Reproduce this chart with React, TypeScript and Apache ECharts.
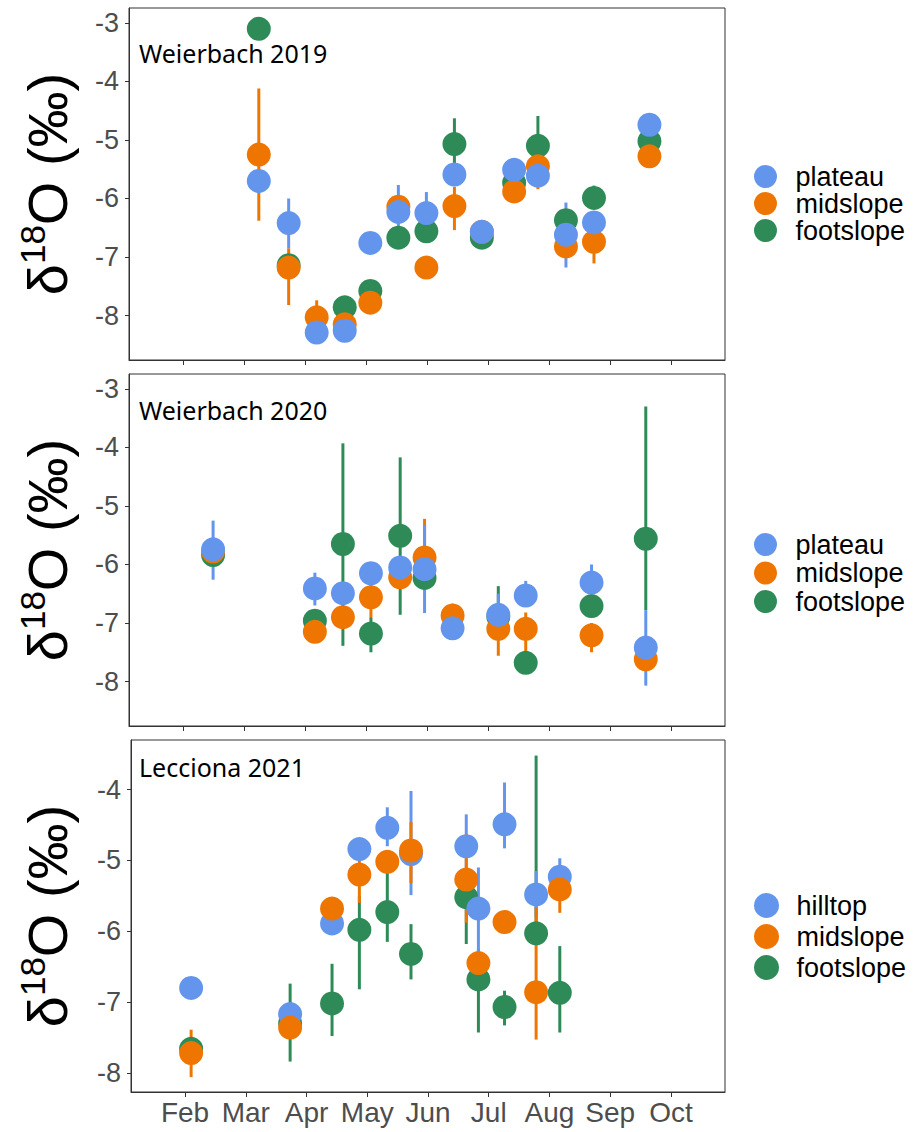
import React, { useEffect, useRef } from "react";
import * as echarts from "echarts";

// ---------- shared axis data ----------
const monthLabels = ["Feb", "Mar", "Apr", "May", "Jun", "Jul", "Aug", "Sep", "Oct"];
const monthTicks = [2, 3, 4, 5, 6, 7, 8, 9, 10]; // 2 = 1 Feb, 3 = 1 Mar, ...
const yTicksWeierbach = [-8, -7, -6, -5, -4, -3];
const yTicksLecciona = [-8, -7, -6, -5, -4];

// ---------- Panel 1: Weierbach 2019 ----------
const p1Dates = [3.24, 3.73, 4.19, 4.65, 5.07, 5.53, 5.99, 6.45, 6.9, 7.43, 7.82, 8.28, 8.74, 9.65];
const p1Plateau = [-5.7, -6.42, -8.29, -8.26, -6.76, -6.23, -6.25, -5.59, -6.57, -5.51, -5.61, -6.62, -6.41, -4.74];
const p1PlateauLo = [null, -6.85, null, null, null, -6.68, -6.62, null, null, -5.75, null, -7.18, null, null];
const p1PlateauHi = [null, -6.0, null, null, null, -5.77, -5.89, null, null, -5.33, null, -6.07, null, null];
const p1Midslope = [-5.25, -7.18, -8.03, -8.15, -7.78, -6.14, -7.18, -6.13, -6.57, -5.88, -5.45, -6.82, -6.74, -5.28];
const p1MidslopeLo = [-6.38, -7.82, -8.25, -8.25, null, null, null, -6.54, -6.66, null, -5.84, null, -7.11, null];
const p1MidslopeHi = [-4.12, -6.85, -7.74, -8.05, null, null, null, -5.8, -6.5, null, -5.09, null, -6.5, null];
const p1Footslope = [-3.1, -7.14, null, -7.86, -7.58, -6.67, -6.56, -5.07, -6.67, -5.73, -5.1, -6.37, -5.99, -5.02];
const p1FootslopeLo = [null, null, null, null, null, null, null, -5.5, null, -5.95, -5.5, null, -6.1, -5.2];
const p1FootslopeHi = [null, null, null, null, null, null, null, -4.63, null, -5.5, -4.59, null, -5.78, -4.9];

// ---------- Panel 2: Weierbach 2020 ----------
const p2Dates = [2.49, 4.16, 4.62, 5.08, 5.56, 5.96, 6.42, 7.17, 7.62, 8.7, 9.59];
const p2Plateau = [-5.74, -6.41, -6.49, -6.15, -6.05, -6.08, -7.09, -6.86, -6.53, -6.31, -7.42];
const p2PlateauLo = [-6.26, -6.7, null, null, null, -6.83, null, -7.23, -6.7, -6.62, -8.07];
const p2PlateauHi = [-5.25, -6.14, null, null, null, -5.32, null, -6.5, -6.28, -6.0, -6.78];
const p2Midslope = [-5.78, -7.15, -6.9, -6.56, -6.22, -5.88, -6.87, -7.1, -7.1, -7.21, -7.62];
const p2MidslopeLo = [null, null, null, -6.9, null, -6.2, -7.0, -7.56, -7.49, -7.5, null];
const p2MidslopeHi = [null, null, null, -6.29, null, -5.22, -6.67, -6.9, -6.82, -7.0, null];
const p2Footslope = [-5.84, -6.96, -5.65, -7.18, -5.51, -6.23, null, -6.89, -7.68, -6.71, -5.56];
const p2FootslopeLo = [null, -7.23, -7.39, -7.5, -6.86, null, null, -7.0, null, null, -6.78];
const p2FootslopeHi = [null, -6.8, -3.93, -6.9, -4.17, null, null, -6.37, null, null, -3.3];

// ---------- Panel 3: Lecciona 2021 ----------
const p3Dates = [2.1, 3.73, 4.42, 4.87, 5.33, 5.72, 6.63, 6.83, 7.26, 7.78, 8.17];
const p3Hilltop = [-6.8, -7.17, -5.89, -4.84, -4.54, -4.91, -4.8, -5.68, -4.49, -5.48, -5.23];
const p3HilltopLo = [null, null, null, null, -4.8, -5.49, -5.2, -6.4, -4.83, -5.8, -5.5];
const p3HilltopHi = [null, null, null, null, -4.25, -4.02, -4.35, -5.1, -3.9, -5.15, -4.97];
const p3Midslope = [-7.72, -7.36, -5.68, -5.2, -5.02, -4.86, -5.27, -6.45, -5.87, -6.86, -5.41];
const p3MidslopeLo = [-8.06, -7.5, null, -5.6, null, -5.32, -5.88, null, null, -7.53, -5.74];
const p3MidslopeHi = [-7.39, -7.2, null, -4.83, null, -4.46, -4.63, null, null, -5.66, -5.09];
const p3Footslope = [-7.66, -7.3, -7.02, -5.98, -5.73, -6.32, -5.52, -6.68, -7.07, -6.03, -6.87];
const p3FootslopeLo = [null, -7.84, -7.48, -6.82, -6.15, -6.68, -6.18, -7.43, -7.33, -6.2, -7.43];
const p3FootslopeHi = [null, -6.74, -6.46, -5.5, -5.12, -5.9, -5.3, -6.25, -6.84, -3.52, -6.21];

const BLUE = "#6495ED";
const ORANGE = "#EE7600";
const GREEN = "#2E8B57";
const AXIS_FONT = "Liberation Sans";

type Group = { name: string; color: string; vals: (number | null)[]; lo: (number | null)[]; hi: (number | null)[] };

function buildSeries(panel: number, dates: number[], groups: Group[]) {
  const out: any[] = [];
  groups.forEach((g) => {
    const barData = dates
      .map((d, i) => (g.lo[i] == null || g.hi[i] == null ? null : [d, g.lo[i], g.hi[i]]))
      .filter((v) => v != null);
    out.push({
      type: "custom",
      name: "bar-" + g.name + "-" + panel,
      xAxisIndex: panel,
      yAxisIndex: panel,
      data: barData,
      encode: { x: 0, y: [1, 2] },
      silent: true,
      renderItem: (params: any, api: any) => {
        const a = api.coord([api.value(0), api.value(1)]);
        const b = api.coord([api.value(0), api.value(2)]);
        return {
          type: "line",
          shape: { x1: a[0], y1: a[1], x2: b[0], y2: b[1] },
          style: { stroke: g.color, lineWidth: 3 },
        };
      },
    });
    out.push({
      type: "scatter",
      name: g.name + "|" + panel,
      xAxisIndex: panel,
      yAxisIndex: panel,
      symbol: "circle",
      symbolSize: 24,
      itemStyle: { color: g.color, opacity: 1 },
      data: dates.map((d, i) => [d, g.vals[i]]).filter((v) => v[1] != null),
    });
  });
  return out;
}

export default function App() {
  const ref = useRef<HTMLDivElement>(null);
  useEffect(() => {
    if (!ref.current) return;
    const chart = echarts.init(ref.current, undefined, { renderer: "svg" });

    const grids = [
      { left: 129, top: 8, width: 596, height: 352 },
      { left: 129, top: 374, width: 596, height: 352 },
      { left: 131, top: 740, width: 594, height: 352 },
    ].map((g) => ({ ...g, show: true, borderColor: "#333", borderWidth: 1, backgroundColor: "transparent" }));

    const xAxes = [0, 1, 2].map((i) => ({
      type: "value",
      gridIndex: i,
      min: 1.11,
      max: 10.89,
      splitLine: { show: false },
      axisLine: { show: true, lineStyle: { color: "#333", width: 1 } },
      axisTick: { show: true, length: 5, customValues: monthTicks, lineStyle: { color: "#333" } },
      axisLabel: {
        show: i === 2,
        customValues: monthTicks,
        formatter: (v: number) => monthLabels[Math.round(v) - 2] || "",
        fontSize: 28,
        fontFamily: AXIS_FONT,
        color: "#4d4d4d",
        margin: 6,
      },
    }));

    const yAxes = [0, 1, 2].map((i) => {
      const ticks = i === 2 ? yTicksLecciona : yTicksWeierbach;
      return {
        type: "value",
        gridIndex: i,
        min: i === 2 ? -8.27 : -8.76,
        max: i === 2 ? -3.3 : -2.745,
        splitLine: { show: false },
        axisLine: { show: true, lineStyle: { color: "#333", width: 1 } },
        axisTick: { show: true, length: 4, customValues: ticks, lineStyle: { color: "#333" } },
        axisLabel: {
          customValues: ticks,
          formatter: (v: number) => String(Math.round(v)),
          fontSize: 27,
          fontFamily: AXIS_FONT,
          color: "#4d4d4d",
          margin: 10,
        },
      };
    });

    const series = [
      ...buildSeries(0, p1Dates, [
        { name: "footslope", color: GREEN, vals: p1Footslope, lo: p1FootslopeLo, hi: p1FootslopeHi },
        { name: "midslope", color: ORANGE, vals: p1Midslope, lo: p1MidslopeLo, hi: p1MidslopeHi },
        { name: "plateau", color: BLUE, vals: p1Plateau, lo: p1PlateauLo, hi: p1PlateauHi },
      ]),
      ...buildSeries(1, p2Dates, [
        { name: "footslope", color: GREEN, vals: p2Footslope, lo: p2FootslopeLo, hi: p2FootslopeHi },
        { name: "midslope", color: ORANGE, vals: p2Midslope, lo: p2MidslopeLo, hi: p2MidslopeHi },
        { name: "plateau", color: BLUE, vals: p2Plateau, lo: p2PlateauLo, hi: p2PlateauHi },
      ]),
      ...buildSeries(2, p3Dates, [
        { name: "footslope", color: GREEN, vals: p3Footslope, lo: p3FootslopeLo, hi: p3FootslopeHi },
        { name: "hilltop", color: BLUE, vals: p3Hilltop, lo: p3HilltopLo, hi: p3HilltopHi },
        { name: "midslope", color: ORANGE, vals: p3Midslope, lo: p3MidslopeLo, hi: p3MidslopeHi },
      ]),
    ];

    const legendBase = {
      orient: "vertical",
      left: 754,
      padding: 0,
      icon: "circle",
      itemWidth: 50,
      itemHeight: 23,
      symbolKeepAspect: true,
      selectedMode: false,
      formatter: (name: string) => name.split("|")[0],
      textStyle: { fontSize: 27, fontFamily: AXIS_FONT, color: "#000", lineHeight: 26, padding: [0, 0, 0, 0] },
    };
    const legends = [
      { ...legendBase, top: 163, itemGap: 0, data: ["plateau|0", "midslope|0", "footslope|0"] },
      { ...legendBase, top: 531, itemGap: 1.5, data: ["plateau|1", "midslope|1", "footslope|1"] },
      { ...legendBase, top: 892, itemGap: 4, itemHeight: 25, data: ["hilltop|2", "midslope|2", "footslope|2"] },
    ];

    const titleText = (cy: number) => ({
      type: "text",
      x: 47,
      y: cy,
      rotation: Math.PI / 2,
      style: {
        text: "{a|δ}{b|18}{a|O (‰)}",
        align: "center",
        verticalAlign: "middle",
        rich: {
          a: { fontSize: 56, fontFamily: AXIS_FONT, fill: "#000", lineHeight: 64, verticalAlign: "middle" },
          b: { fontSize: 35, fontFamily: AXIS_FONT, fill: "#000", lineHeight: 32, verticalAlign: "top" },
        },
      },
    });
    const panelLabel = (text: string, y: number) => ({
      type: "text",
      x: 139,
      y,
      style: { text, fontSize: 25, fontFamily: "Noto Sans", fill: "#000", align: "left", verticalAlign: "middle" },
    });

    chart.setOption({
      animation: false,
      backgroundColor: "#fff",
      grid: grids,
      xAxis: xAxes,
      yAxis: yAxes,
      legend: legends,
      series,
      graphic: [
        titleText(184),
        titleText(550),
        titleText(916),
        panelLabel("Weierbach 2019", 53),
        panelLabel("Weierbach 2020", 410),
        panelLabel("Lecciona 2021", 767),
      ],
    });
    return () => chart.dispose();
  }, []);
  return (
    <div
      ref={ref}
      style={{ position: "absolute", left: 0, top: 0, width: 917, height: 1132, background: "#fff" }}
    />
  );
}
